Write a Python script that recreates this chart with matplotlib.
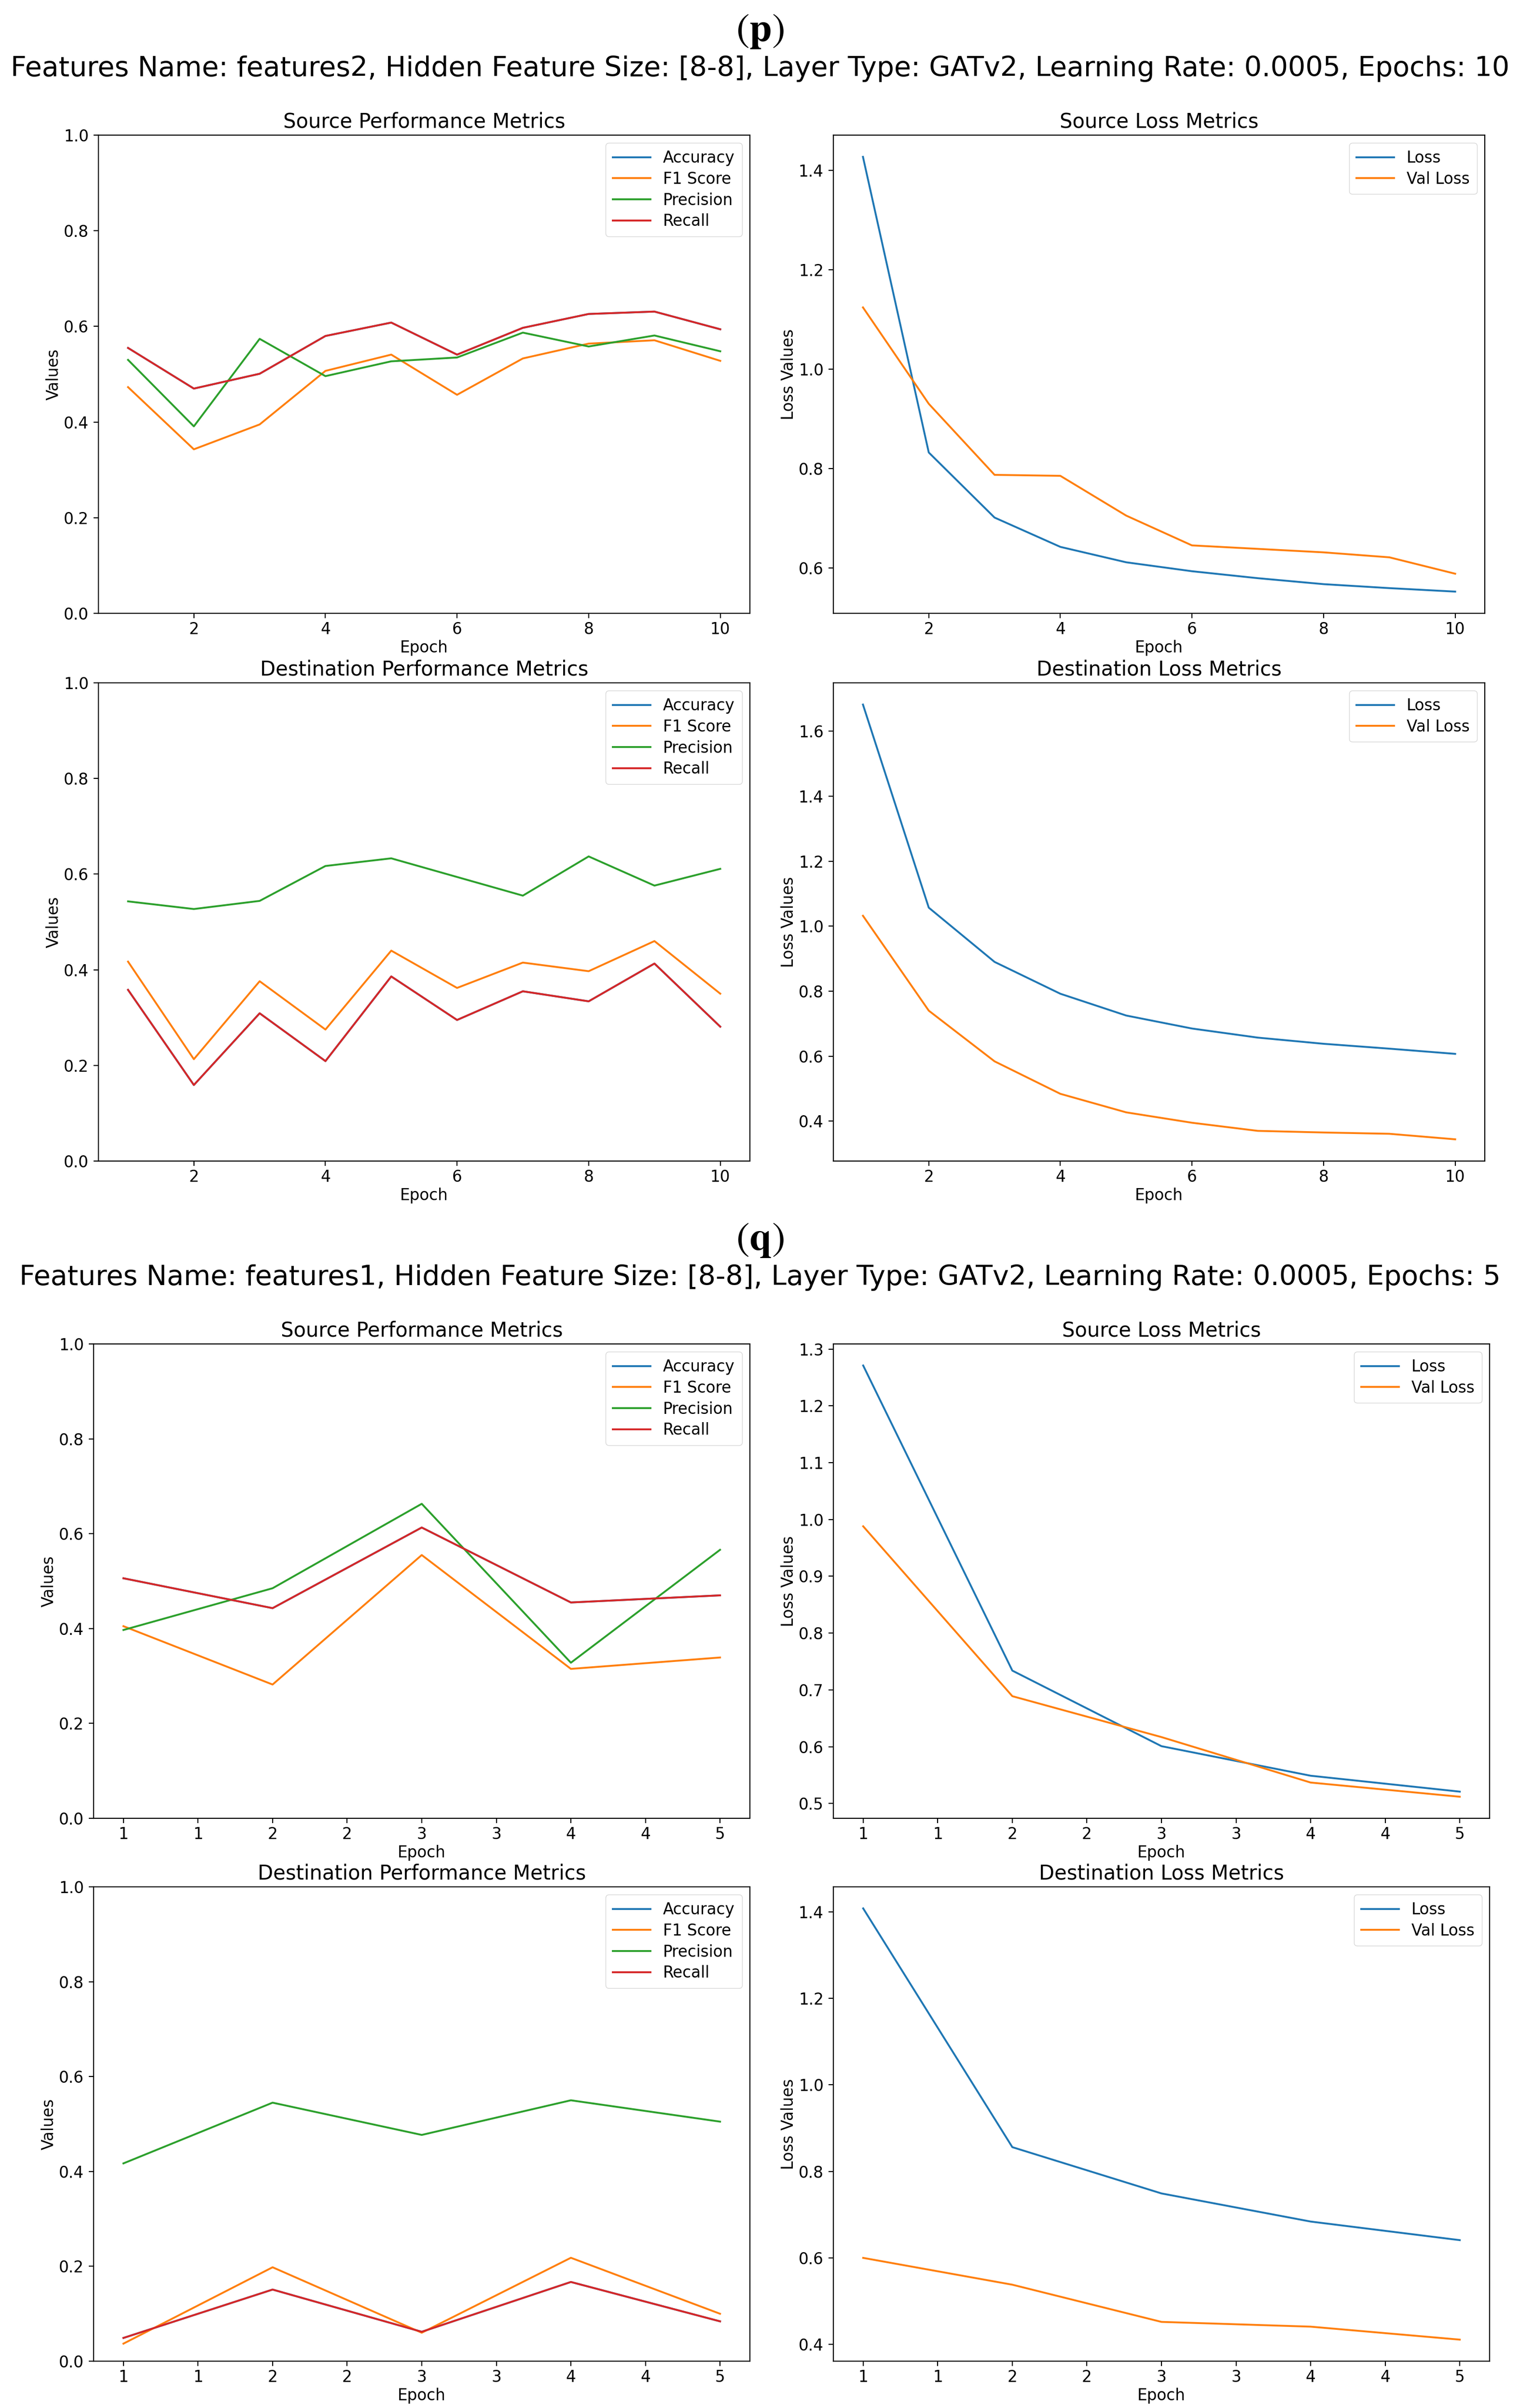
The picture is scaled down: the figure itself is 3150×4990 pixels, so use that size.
import numpy as np
import matplotlib
matplotlib.use('Agg')
import matplotlib.pyplot as plt
from matplotlib.ticker import MultipleLocator, FormatStrFormatter

# ---- (p) features2, 10 epochs ----
epochs_p = [1, 2, 3, 4, 5, 6, 7, 8, 9, 10]
p_src_f1 = [0.473, 0.343, 0.395, 0.507, 0.541, 0.457, 0.533, 0.564, 0.571, 0.528]
p_src_prec = [0.530, 0.391, 0.574, 0.496, 0.527, 0.535, 0.587, 0.558, 0.581, 0.548]
p_src_rec = [0.555, 0.470, 0.501, 0.580, 0.608, 0.541, 0.597, 0.626, 0.631, 0.594]
p_src_acc = p_src_rec   # accuracy hidden under recall
p_src_loss = [1.427, 0.832, 0.701, 0.642, 0.611, 0.593, 0.579, 0.567, 0.559, 0.552]
p_src_val = [1.124, 0.930, 0.787, 0.785, 0.705, 0.645, 0.638, 0.631, 0.621, 0.588]

p_dst_f1 = [0.417, 0.213, 0.376, 0.275, 0.440, 0.362, 0.415, 0.397, 0.460, 0.350]
p_dst_prec = [0.543, 0.527, 0.544, 0.617, 0.633, 0.594, 0.555, 0.637, 0.576, 0.611]
p_dst_rec = [0.358, 0.159, 0.309, 0.209, 0.386, 0.295, 0.355, 0.334, 0.413, 0.281]
p_dst_acc = p_dst_rec
p_dst_loss = [1.682, 1.057, 0.890, 0.792, 0.725, 0.685, 0.657, 0.638, 0.623, 0.607]
p_dst_val = [1.032, 0.740, 0.584, 0.484, 0.427, 0.395, 0.370, 0.365, 0.361, 0.344]

# ---- (q) features1, 5 epochs ----
epochs_q = [1, 2, 3, 4, 5]
q_src_f1 = [0.405, 0.282, 0.555, 0.315, 0.339]
q_src_prec = [0.397, 0.485, 0.663, 0.328, 0.566]
q_src_rec = [0.506, 0.443, 0.613, 0.455, 0.470]
q_src_acc = q_src_rec
q_src_loss = [1.271, 0.734, 0.601, 0.549, 0.521]
q_src_val = [0.988, 0.689, 0.617, 0.537, 0.512]

q_dst_f1 = [0.037, 0.198, 0.060, 0.218, 0.100]
q_dst_prec = [0.417, 0.545, 0.477, 0.550, 0.505]
q_dst_rec = [0.049, 0.151, 0.062, 0.167, 0.084]
q_dst_acc = q_dst_rec
q_dst_loss = [1.408, 0.856, 0.749, 0.684, 0.641]
q_dst_val = [0.600, 0.538, 0.452, 0.441, 0.411]

titles = ['Features Name: features2, Hidden Feature Size: [8-8], Layer Type: GATv2, Learning Rate: 0.0005, Epochs: 10',
          'Features Name: features1, Hidden Feature Size: [8-8], Layer Type: GATv2, Learning Rate: 0.0005, Epochs: 5']

W, H = 3150, 4990
plt.rcParams['font.family'] = 'DejaVu Sans'
plt.rcParams['mathtext.fontset'] = 'stix'
plt.rcParams['axes.linewidth'] = 1.6
plt.rcParams['xtick.major.size'] = 7.5
plt.rcParams['ytick.major.size'] = 7.5
plt.rcParams['xtick.major.width'] = 1.6
plt.rcParams['ytick.major.width'] = 1.6
plt.rcParams['xtick.major.pad'] = 5
plt.rcParams['ytick.major.pad'] = 7
plt.rcParams['xtick.labelsize'] = 23.5
plt.rcParams['ytick.labelsize'] = 23.5
plt.rcParams['axes.labelsize'] = 23.5
plt.rcParams['axes.titlesize'] = 30
plt.rcParams['axes.titlepad'] = 11
plt.rcParams['axes.labelpad'] = 3
plt.rcParams['legend.fontsize'] = 23.5
plt.rcParams['legend.labelspacing'] = 0.33
plt.rcParams['legend.handlelength'] = 2.4
plt.rcParams['legend.borderpad'] = 0.45
plt.rcParams['lines.linewidth'] = 2.8

fig = plt.figure(figsize=(W / 100, H / 100), dpi=100)


def box(x0, y0, x1, y1):
    # pixel box (top-left origin) -> figure fraction
    return [x0 / W, 1 - y1 / H, (x1 - x0) / W, (y1 - y0) / H]


def perf(ax, ep, acc, f1, prec, rec, title, half):
    ax.plot(ep, acc, label='Accuracy')
    ax.plot(ep, f1, label='F1 Score')
    ax.plot(ep, prec, label='Precision')
    ax.plot(ep, rec, label='Recall')
    ax.set_ylim(0, 1)
    ax.set_title(title)
    ax.set_xlabel('Epoch')
    ax.set_ylabel('Values')
    ax.legend(loc='upper right')
    if half:
        ax.xaxis.set_major_locator(MultipleLocator(0.5))
        ax.xaxis.set_major_formatter(FormatStrFormatter('%d'))


def loss(ax, ep, l, v, title, half):
    ax.plot(ep, l, label='Loss')
    ax.plot(ep, v, label='Val Loss')
    ax.set_title(title)
    ax.set_xlabel('Epoch')
    ax.set_ylabel('Loss Values')
    ax.legend(loc='upper right')
    if half:
        ax.xaxis.set_major_locator(MultipleLocator(0.5))
        ax.xaxis.set_major_formatter(FormatStrFormatter('%d'))


# (p)
fig.text(0.5, 1 - 63 / H, r'$(\mathbf{p})$', ha='center', va='center', fontsize=60)
fig.text(0.5, 1 - 142 / H, titles[0], ha='center', va='center', fontsize=41)
a = fig.add_axes(box(204, 280, 1554, 1271))
perf(a, epochs_p, p_src_acc, p_src_f1, p_src_prec, p_src_rec, 'Source Performance Metrics', False)
a = fig.add_axes(box(1727, 280, 3077, 1271))
loss(a, epochs_p, p_src_loss, p_src_val, 'Source Loss Metrics', False)
a = fig.add_axes(box(204, 1415, 1554, 2406))
perf(a, epochs_p, p_dst_acc, p_dst_f1, p_dst_prec, p_dst_rec, 'Destination Performance Metrics', False)
a = fig.add_axes(box(1727, 1415, 3077, 2406))
loss(a, epochs_p, p_dst_loss, p_dst_val, 'Destination Loss Metrics', False)

# (q)
fig.text(0.5, 1 - 2569 / H, r'$(\mathbf{q})$', ha='center', va='center', fontsize=60)
fig.text(0.5, 1 - 2648 / H, titles[1], ha='center', va='center', fontsize=41)
a = fig.add_axes(box(194, 2785, 1554, 3768))
perf(a, epochs_q, q_src_acc, q_src_f1, q_src_prec, q_src_rec, 'Source Performance Metrics', True)
a = fig.add_axes(box(1727, 2785, 3087, 3768))
loss(a, epochs_q, q_src_loss, q_src_val, 'Source Loss Metrics', True)
a = fig.add_axes(box(194, 3910, 1554, 4893))
perf(a, epochs_q, q_dst_acc, q_dst_f1, q_dst_prec, q_dst_rec, 'Destination Performance Metrics', True)
a = fig.add_axes(box(1727, 3910, 3087, 4893))
loss(a, epochs_q, q_dst_loss, q_dst_val, 'Destination Loss Metrics', True)

fig.savefig('out.png', dpi=100)
